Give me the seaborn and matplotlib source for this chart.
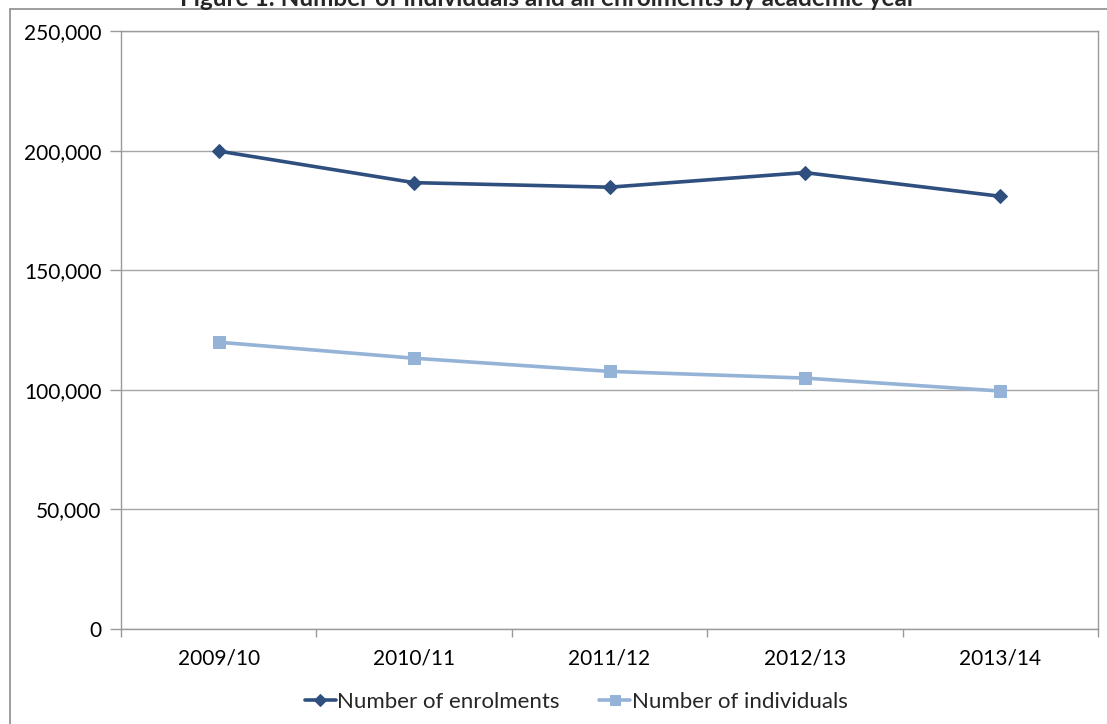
import matplotlib
matplotlib.use("Agg")
import matplotlib.pyplot as plt
import matplotlib.ticker as mticker
from matplotlib.patches import Rectangle
import seaborn as sns
import pandas as pd

# Academic years and the two series (counts)
years = ["2009/10", "2010/11", "2011/12", "2012/13", "2013/14"]
enrolments = [199800, 186600, 184700, 190800, 180900]
individuals = [119900, 113200, 107700, 104900, 99500]
series_names = ["Number of enrolments", "Number of individuals"]
colors = ["#2F4F7F", "#95B3D7"]
markers = ["D", "s"]
title = "Figure 1: Number of individuals and all enrolments by academic year"

sns.set_theme(style="white")
plt.rcParams["font.family"] = ["Lato", "DejaVu Sans"]

df = pd.DataFrame({
    "year": years * 2,
    "value": enrolments + individuals,
    "series": [series_names[0]] * len(years) + [series_names[1]] * len(years),
})

fig = plt.figure(figsize=(11.07, 7.24), dpi=100)
ax = fig.add_axes([121 / 1107, 1 - 629 / 724, (1098 - 121) / 1107, (629 - 31) / 724])

for name, col, mk in zip(series_names, colors, markers):
    sub = df[df["series"] == name]
    sns.lineplot(data=sub, x="year", y="value", ax=ax, color=col, linewidth=2.6,
                 marker=mk, markersize=7 if mk == "D" else 8,
                 markeredgecolor=col, label=name, legend=False)

ax.set_xlim(-0.5, len(years) - 0.5)
ax.set_ylim(0, 250000)
ax.yaxis.set_major_locator(mticker.MultipleLocator(50000))
ax.yaxis.set_major_formatter(mticker.FuncFormatter(lambda v, p: f"{int(v):,}"))
ax.grid(axis="y", color="#A6A6A6", linewidth=1)
ax.set_axisbelow(True)
ax.set_xlabel("")
ax.set_ylabel("")

for s in ax.spines.values():
    s.set_visible(True)
    s.set_color("#9A9A9A")
    s.set_linewidth(1)

ax.set_xticks(range(len(years)))
ax.set_xticklabels(years)
ax.set_xticks([i - 0.5 for i in range(len(years) + 1)], minor=True)
ax.tick_params(axis="x", which="major", length=0, pad=14, labelsize=15, labelcolor="black")
ax.tick_params(axis="x", which="minor", length=6, color="#9A9A9A", width=1, direction="out", bottom=True)
ax.tick_params(axis="y", which="major", length=8, color="#9A9A9A", width=1, direction="out",
               left=True, pad=6, labelsize=15, labelcolor="black")

# Outer chart frame
fig.patches.append(Rectangle((10 / 1107, -0.05), 1.2, 1 - 9 / 724 + 0.05,
                             transform=fig.transFigure, fill=False,
                             edgecolor="#8C8C8C", linewidth=1.2, zorder=0))

fig.text(548 / 1107, 1 - 6 / 724, title, ha="center", va="baseline",
         fontsize=17.5, fontweight="bold")

handles, labels = ax.get_legend_handles_labels()
fig.legend(handles, labels, loc="center", bbox_to_anchor=(576 / 1107, 1 - 702 / 724),
           ncol=2, frameon=False, fontsize=16, handlelength=1.4, handletextpad=0.05,
           columnspacing=1.8, markerscale=0.9)

fig.savefig("out.png", dpi=100)
